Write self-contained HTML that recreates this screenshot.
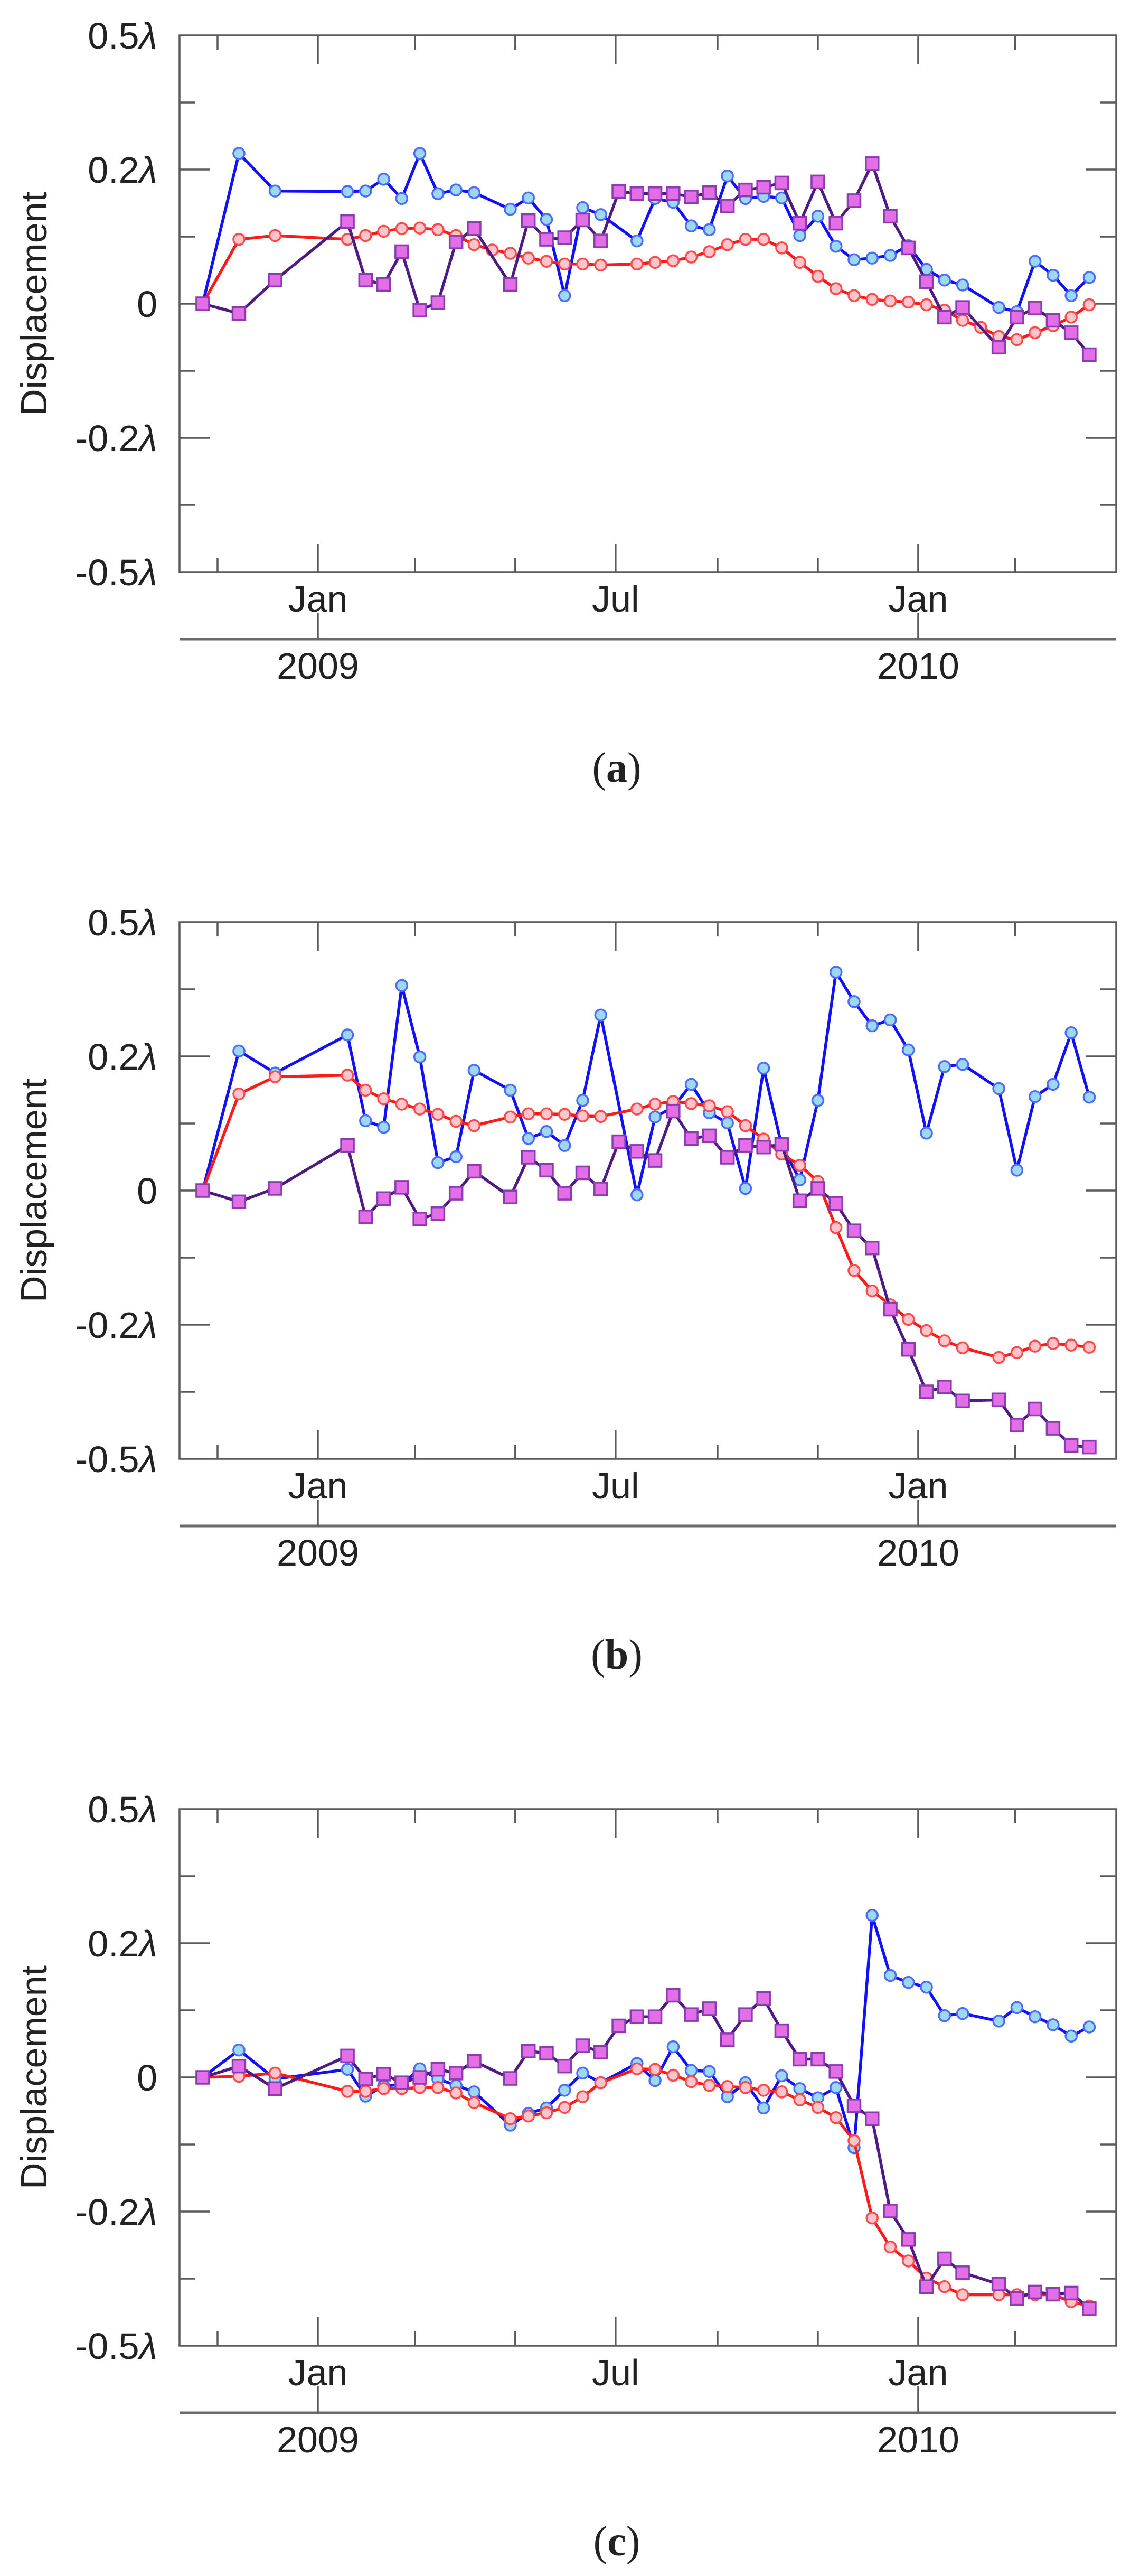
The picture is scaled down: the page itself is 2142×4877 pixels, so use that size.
<!DOCTYPE html>
<html><head><meta charset="utf-8">
<style>
html,body{margin:0;padding:0;background:#fff;}
svg{display:block;}
text{font-family:"Liberation Sans",sans-serif;fill:#222;}
.cap{font-family:"Liberation Serif",serif;}
</style></head>
<body>
<svg id="fig" width="2142" height="4877" viewBox="0 0 2142 4877" xmlns="http://www.w3.org/2000/svg"></svg>
<script>
// Acquisition index (11-day repeat, index 0 = 23 Oct 2008)
const idxA_blue = [0,2,4,8,9,10,11,12,13,14,15,17,18,19,20,21,22,24,25,26,27,28,29,30,31,32,33,34,35,36,37,38,39,40,41,42,44,45,46,47,48,49];
const valA_blue = [0,0.28,0.21,0.209,0.21,0.232,0.196,0.28,0.205,0.212,0.207,0.176,0.197,0.157,0.015,0.179,0.166,0.117,0.196,0.189,0.145,0.138,0.238,0.196,0.2,0.197,0.127,0.163,0.107,0.082,0.085,0.09,0.108,0.064,0.044,0.035,-0.007,-0.015,0.079,0.053,0.015,0.049];
const idxA_red = [0,2,4,8,9,10,11,12,13,14,15,16,17,18,19,20,21,22,24,25,26,27,28,29,30,31,32,33,34,35,36,37,38,39,40,41,42,43,44,45,46,47,48,49];
const valA_red = [0,0.12,0.127,0.12,0.127,0.135,0.14,0.141,0.138,0.127,0.11,0.1,0.094,0.085,0.079,0.074,0.074,0.072,0.074,0.077,0.08,0.087,0.097,0.11,0.12,0.12,0.104,0.077,0.051,0.028,0.015,0.008,0.005,0.003,-0.002,-0.012,-0.031,-0.044,-0.061,-0.067,-0.054,-0.041,-0.025,-0.002];
const idxA_purple = [0,2,4,8,9,10,11,12,13,14,15,17,18,19,20,21,22,23,24,25,26,27,28,29,30,31,32,33,34,35,36,37,38,39,40,41,42,44,45,46,47,48,49];
const valA_purple = [0,-0.018,0.044,0.153,0.044,0.036,0.097,-0.012,0.002,0.115,0.14,0.036,0.155,0.12,0.123,0.156,0.117,0.209,0.205,0.205,0.205,0.199,0.207,0.182,0.212,0.217,0.225,0.15,0.227,0.15,0.192,0.261,0.163,0.104,0.041,-0.025,-0.007,-0.081,-0.025,-0.008,-0.031,-0.054,-0.095];

const idxB_blue = idxA_blue;
const valB_blue = [0,0.26,0.219,0.29,0.13,0.118,0.382,0.249,0.052,0.063,0.224,0.187,0.097,0.11,0.084,0.168,0.327,-0.008,0.137,0.155,0.198,0.145,0.126,0.004,0.228,0.084,0.02,0.168,0.407,0.352,0.307,0.318,0.262,0.107,0.231,0.235,0.19,0.038,0.175,0.198,0.294,0.174];
const idxB_red = [0,2,4,8,9,10,11,12,13,14,15,17,18,19,20,21,22,24,25,26,27,28,29,30,31,32,33,34,35,36,37,38,39,40,41,42,44,45,46,47,48,49];
const valB_red = [0,0.18,0.212,0.215,0.187,0.171,0.161,0.152,0.142,0.129,0.121,0.137,0.143,0.143,0.142,0.139,0.138,0.152,0.161,0.166,0.162,0.158,0.147,0.121,0.096,0.068,0.047,0.017,-0.069,-0.149,-0.187,-0.213,-0.24,-0.261,-0.28,-0.293,-0.311,-0.302,-0.29,-0.285,-0.288,-0.292];
const idxB_purple = idxA_purple;
const valB_purple = [0,-0.021,0.004,0.084,-0.049,-0.015,0.006,-0.053,-0.043,-0.005,0.036,-0.012,0.062,0.038,-0.005,0.033,0.003,0.091,0.073,0.056,0.148,0.097,0.102,0.062,0.084,0.081,0.086,-0.019,0.004,-0.024,-0.075,-0.107,-0.221,-0.296,-0.375,-0.366,-0.392,-0.39,-0.437,-0.407,-0.443,-0.475,-0.478];

const idxC_blue = idxA_blue;
const valC_blue = [0,0.051,-0.003,0.015,-0.035,-0.016,-0.013,0.016,-0.003,-0.015,-0.027,-0.089,-0.067,-0.057,-0.024,0.008,-0.01,0.026,-0.006,0.057,0.013,0.011,-0.036,-0.01,-0.057,0.003,-0.021,-0.038,-0.019,-0.131,0.302,0.19,0.177,0.168,0.115,0.119,0.105,0.13,0.113,0.098,0.077,0.094];
const idxC_red = idxB_red;
const valC_red = [0,0.002,0.008,-0.026,-0.026,-0.021,-0.021,-0.019,-0.019,-0.029,-0.047,-0.077,-0.072,-0.066,-0.056,-0.036,-0.01,0.016,0.015,0.004,-0.008,-0.015,-0.017,-0.019,-0.024,-0.027,-0.042,-0.056,-0.075,-0.118,-0.262,-0.316,-0.342,-0.374,-0.39,-0.405,-0.405,-0.405,-0.405,-0.405,-0.418,-0.426];
const idxC_purple = idxA_purple;
const valC_purple = [0,0.021,-0.021,0.04,-0.003,0.006,-0.01,0,0.015,0.008,0.03,-0.002,0.049,0.045,0.021,0.059,0.047,0.096,0.113,0.113,0.153,0.117,0.128,0.07,0.117,0.147,0.087,0.034,0.034,0.011,-0.053,-0.077,-0.249,-0.302,-0.39,-0.338,-0.364,-0.385,-0.412,-0.4,-0.404,-0.402,-0.431];

const yTickVals = [0.5,0.25,0,-0.25,-0.5];
const yTickLabels = ["0.5","0.2","0","-0.2","-0.5"];
const yTickLambda = [true,true,false,true,true];
const yMinorVals = [0.375,0.125,-0.125,-0.375];
const monthTickDays = [-61,0,59,120,181,243,304,365,424];
const monthMajor = [false,true,false,false,true,false,false,true,false];
const monthLabelDays = [0,181,365];
const monthLabels = ["Jan","Jul","Jan"];
const yearDays = [0,365];
const yearLabels = ["2009","2010"];
const captions = ["a","b","c"];

const NS="http://www.w3.org/2000/svg";
const svg=document.getElementById('fig');
function mk(tag,attrs,parent){const e=document.createElementNS(NS,tag);for(const k in attrs)e.setAttribute(k,attrs[k]);(parent||svg).appendChild(e);return e;}

const L=340,R=2114,TOP=67,BOT=1083;
function xDay(d){return 602+d*3.115;}
function xIdx(k){return xDay(-70+11*k);}

const charts=[
 [[idxA_blue,valA_blue],[idxA_red,valA_red],[idxA_purple,valA_purple]],
 [[idxB_blue,valB_blue],[idxB_red,valB_red],[idxB_purple,valB_purple]],
 [[idxC_blue,valC_blue],[idxC_red,valC_red],[idxC_purple,valC_purple]]
];
const styles=[
 {name:'blue',line:'#1010ff',fill:'#9ed8f0',stroke:'#4a6cff',shape:'c'},
 {name:'red',line:'#ff1a1a',fill:'#ffc4cc',stroke:'#ff4a4a',shape:'c'},
 {name:'purple',line:'#4e1a86',fill:'#e46ee6',stroke:'#8a3cb0',shape:'s'}
];

charts.forEach((series,ci)=>{
  const off=ci*1679;
  const top=TOP+off,bot=BOT+off;
  function yv(v){return top+(0.5-v)*(bot-top);}
  const g=mk('g',{});
  
  
  const ax='#5a5a5a';
  const frame=mk('rect',{x:L,y:top,width:R-L,height:bot-top,fill:'none',stroke:ax,'stroke-width':3.5},g);
  
  
  yTickVals.forEach((v,i)=>{
    const y=yv(v);
    if(i>0&&i<yTickVals.length-1){
      mk('line',{x1:L,x2:L+57,y1:y,y2:y,stroke:ax,'stroke-width':3.5},g);
      mk('line',{x1:R-57,x2:R,y1:y,y2:y,stroke:ax,'stroke-width':3.5},g);
    }
    const t=mk('text',{x:298,y:y+25,'text-anchor':'end','font-size':70},g);
    t.innerHTML=yTickLabels[i]+(yTickLambda[i]?'<tspan font-style="italic">λ</tspan>':'');
    
    
  });
  yMinorVals.forEach(v=>{
    const y=yv(v);
    mk('line',{x1:L,x2:L+30,y1:y,y2:y,stroke:ax,'stroke-width':3.5},g);
    mk('line',{x1:R-30,x2:R,y1:y,y2:y,stroke:ax,'stroke-width':3.5},g);
  });
  monthTickDays.forEach((d,i)=>{
    const x=xDay(d),len=monthMajor[i]?54:27;
    mk('line',{x1:x,x2:x,y1:top,y2:top+len,stroke:ax,'stroke-width':3.5},g);
    mk('line',{x1:x,x2:x,y1:bot-len,y2:bot,stroke:ax,'stroke-width':3.5},g);
  });
  monthLabelDays.forEach((d,i)=>{
    const t=mk('text',{x:xDay(d),y:bot+75,'text-anchor':'middle','font-size':70},g);
    t.textContent=monthLabels[i];
    
    
  });
  const yl=bot+127;
  mk('line',{x1:L,x2:R,y1:yl,y2:yl,stroke:'#6a6a6a','stroke-width':5},g);
  yearDays.forEach((d,i)=>{
    const x=xDay(d);
    mk('line',{x1:x,x2:x,y1:yl-50,y2:yl,stroke:ax,'stroke-width':3.5},g);
    const t=mk('text',{x:x,y:yl+75,'text-anchor':'middle','font-size':70},g);
    t.textContent=yearLabels[i];
    
    
  });
  const yt=mk('text',{x:0,y:0,'text-anchor':'middle','font-size':70,transform:`translate(88,${(top+bot)/2}) rotate(-90)`},g);
  yt.textContent='Displacement';
  
  
  series.forEach((s,si)=>{
    const st=styles[si];
    const idx=s[0],vals=s[1];
    const sg=mk('g',{},g);
    
    
    const pts=idx.map((k,i)=>xIdx(k).toFixed(1)+','+yv(vals[i]).toFixed(1)).join(' ');
    const pl=mk('polyline',{points:pts,fill:'none',stroke:st.line,'stroke-width':5.5,'stroke-linejoin':'round'},sg);
    
    
    idx.forEach((k,i)=>{
      const x=xIdx(k),y=yv(vals[i]);
      let m;
      if(st.shape==='c'){
        m=mk('circle',{cx:x,cy:y,r:10.5,fill:st.fill,stroke:st.stroke,'stroke-width':3.5},sg);
      }else{
        m=mk('rect',{x:x-12,y:y-12,width:24,height:24,fill:st.fill,stroke:st.stroke,'stroke-width':3.5},sg);
      }
      
      
    });
  });
  const cap=mk('text',{x:1168,y:off+1480,'text-anchor':'middle','font-size':80,class:'cap'},g);
  cap.innerHTML='(<tspan font-weight="bold">'+captions[ci]+'</tspan>)';
  
  
});
</script>
</body></html>
